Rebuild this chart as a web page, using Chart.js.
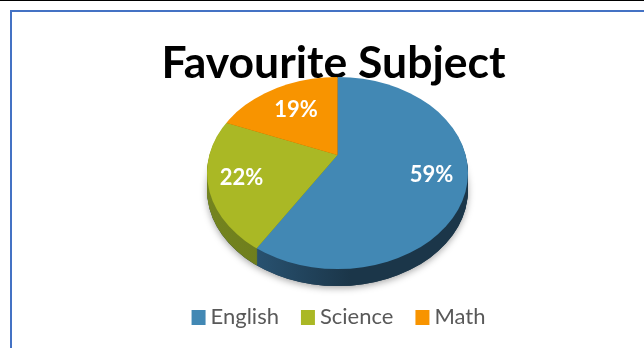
<!DOCTYPE html>
<html>
<head>
<meta charset="utf-8">
<style>
  html, body { margin: 0; padding: 0; background: #fff; overflow: hidden; }
  #page { position: relative; width: 644px; height: 348px; border-top: 1px solid #000; box-sizing: border-box; }
  #frame { position: absolute; left: 10px; top: 9px; right: -4px; bottom: -4px; border: 2px solid #4472c4; }
  canvas { position: absolute; left: 0; top: -1px; }
</style>
<script src="https://cdn.jsdelivr.net/npm/chart.js@4/dist/chart.umd.js"></script>
</head>
<body>
<div id="page"><div id="frame"></div><canvas id="chart" width="644" height="348"></canvas></div>
<script>
const categories = ['English', 'Science', 'Math'];
const shares = [59, 22, 19];
const faceColors = ['#4288b4', '#aab825', '#f89400'];
const sideColorsLight = ['#2f6085', '#74841f', '#a86400'];
const sideColorsDark = ['#1b3649', '#65741a', '#a86400'];
const labelDistance = [98, 101, 74];

// Perspective of the disc: slices fan out from an apex above the rim's centre.
const disc = { apexX: 337.5, apexY: 155, cx: 337.5, cy: 173, rx: 130.5, ry: 96, depth: 17, squash: 0.733, fan: 175 };

function rimPath(ctx, drop) {
  ctx.beginPath();
  ctx.ellipse(disc.cx, disc.cy + drop, disc.rx, disc.ry, 0, 0, Math.PI * 2);
}

function applyFan(ctx, arc, drop) {
  const s = disc.fan / arc.outerRadius;
  ctx.translate(disc.apexX, disc.apexY + drop);
  ctx.scale(s, s * disc.squash);
  ctx.translate(-arc.x, -arc.y);
}

// Swatch with blank margins so the legend text sits close to its square.
function swatch(color) {
  const c = document.createElement('canvas');
  c.width = 32; c.height = 15;
  const g = c.getContext('2d');
  g.fillStyle = color;
  g.fillRect(17, 0, 14, 15);
  return c;
}

const tiltedPie = {
  id: 'tiltedPie',
  beforeDatasetsDraw(chart) {
    const ctx = chart.ctx;
    const arcs = chart.getDatasetMeta(0).data;

    // Soft shadow under the disc.
    ctx.save();
    ctx.shadowColor = 'rgba(0,0,0,0.35)';
    ctx.shadowBlur = 7;
    ctx.shadowOffsetY = 2;
    ctx.fillStyle = '#1b3649';
    rimPath(ctx, disc.depth);
    ctx.fill();
    ctx.restore();

    // Edge of the disc: the same slices stacked downward in darker tones.
    for (let drop = disc.depth; drop > 0; drop--) {
      arcs.forEach((arc, i) => {
        const s = disc.fan / arc.outerRadius;
        const toLocal = x => (x - disc.apexX) / s + arc.x;
        const grad = ctx.createLinearGradient(toLocal(disc.cx - disc.rx), 0, toLocal(disc.cx + disc.rx * 0.1), 0);
        grad.addColorStop(0, sideColorsLight[i]);
        grad.addColorStop(1, sideColorsDark[i]);
        const base = arc.options;
        arc.options = Object.assign({}, base, { backgroundColor: grad });
        ctx.save();
        rimPath(ctx, drop);
        ctx.clip();
        applyFan(ctx, arc, drop);
        arc.draw(ctx);
        ctx.restore();
        arc.options = base;
      });
    }

    // The library then draws the top face inside this clip and transform.
    ctx.save();
    rimPath(ctx, 0);
    ctx.clip();
    applyFan(ctx, arcs[0], 0);
  },
  afterDatasetsDraw(chart) {
    const ctx = chart.ctx;
    ctx.restore();
    ctx.save();
    ctx.fillStyle = '#fff';
    ctx.font = 'bold 22px Lato';
    ctx.textAlign = 'center';
    ctx.textBaseline = 'middle';
    chart.getDatasetMeta(0).data.forEach((arc, i) => {
      const mid = (arc.startAngle + arc.endAngle) / 2;
      const x = disc.apexX + labelDistance[i] * Math.cos(mid);
      const y = disc.apexY + labelDistance[i] * disc.squash * Math.sin(mid);
      ctx.fillText(shares[i] + '%', x, y);
    });
    ctx.restore();
  }
};

new Chart(document.getElementById('chart'), {
  type: 'pie',
  data: {
    labels: categories,
    datasets: [{ data: shares, backgroundColor: faceColors, borderWidth: 0, clip: false }]
  },
  plugins: [tiltedPie],
  options: {
    responsive: false,
    animation: false,
    layout: { padding: { left: 23, bottom: 10 } },
    plugins: {
      tooltip: { enabled: false },
      title: {
        display: true,
        text: 'Favourite Subject',
        color: '#000',
        font: { family: 'Lato', weight: 'bold', size: 44.5 },
        padding: { top: 37, bottom: 0 }
      },
      legend: {
        position: 'bottom',
        labels: {
          color: '#595959',
          font: { family: 'Lato', size: 22 },
          padding: 12,
          usePointStyle: true,
          pointStyleWidth: 18,
          generateLabels(chart) {
            const items = Chart.overrides.doughnut.plugins.legend.labels.generateLabels(chart);
            return items.map((item, i) => Object.assign(item, { pointStyle: swatch(faceColors[i]) }));
          }
        }
      }
    }
  }
});
</script>
</body>
</html>
